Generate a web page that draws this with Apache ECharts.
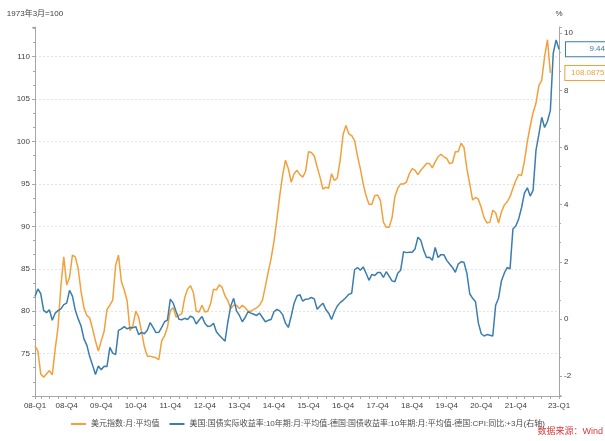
<!DOCTYPE html>
<html>
<head>
<meta charset="utf-8">
<script src="https://cdn.jsdelivr.net/npm/echarts@6/dist/echarts.min.js"></script>
<style>
html,body{margin:0;padding:0;background:#fff;}
#chart{width:605px;height:441px;}
</style>
</head>
<body>
<div id="chart"></div>
<script>
// Monthly categories: Jan 2008 .. Mar 2023
const startYear = 2008;
const monthCount = 183;
const categories = [];
for (let i = 0; i < monthCount; i++) {
  const y = startYear + Math.floor(i / 12);
  const m = (i % 12) + 1;
  categories.push(y + '-' + (m < 10 ? '0' + m : m));
}

const seriesNames = [
  '美元指数:月:平均值',
  '美国:国债实际收益率:10年期:月:平均值-德国:国债收益率:10年期:月:平均值-德国:CPI:同比:+3月(右轴)'
];

// US Dollar index, monthly average (left axis), Jan 2008 .. Dec 2022
const dollarIndex = [
  75.9, 75.3, 72.6, 72.2, 72.6, 73.0, 72.5, 75.5, 78.1, 83.0, 86.4, 83.1,
  84.0, 86.6, 86.4, 85.0, 82.3, 80.4, 79.5, 79.2, 77.9, 76.5, 75.3, 76.5,
  77.6, 80.2, 80.7, 81.3, 85.4, 86.6, 83.5, 82.5, 81.2, 77.7, 78.3, 80.0,
  79.3, 77.6, 75.8, 74.7, 74.7, 74.6, 74.5, 74.3, 76.5, 77.1, 78.1, 80.1,
  80.4, 79.3, 79.5, 79.7, 81.6, 82.6, 83.0, 82.2, 80.0, 79.9, 80.7, 79.9,
  80.0, 80.9, 82.6, 82.5, 83.1, 82.8, 81.8, 81.2, 80.3, 80.7, 80.7, 80.3,
  80.7, 80.4, 80.0, 80.0, 80.2, 80.4, 80.7, 81.3, 82.9, 84.6, 86.2, 88.2,
  90.8, 93.6, 96.0, 97.8, 96.8, 95.2, 96.2, 96.6, 96.1, 95.8, 96.5, 98.8,
  98.7, 98.3, 97.0, 95.8, 94.4, 94.6, 94.5, 96.2, 95.4, 95.7, 97.8, 100.8,
  101.9, 100.9, 100.7, 100.1, 98.3, 96.8, 95.0, 93.6, 92.6, 92.6, 93.6, 93.7,
  93.0, 90.5, 89.9, 89.9, 91.0, 93.5, 94.5, 95.0, 95.0, 95.2, 96.2, 96.8,
  96.6, 96.1, 96.6, 97.0, 97.4, 97.4, 96.9, 97.6, 98.2, 98.5, 98.2, 98.0,
  97.4, 97.5, 98.8, 98.8, 99.8, 99.3, 96.8, 95.0, 93.1, 93.4, 93.2, 92.2,
  91.0, 90.4, 90.5, 91.9, 91.6, 90.4, 91.7, 92.5, 92.9, 93.5, 94.5, 95.4,
  96.1, 96.0, 97.7, 100.0, 101.8, 103.4, 104.5, 106.6, 107.2, 110.0, 112.0, 108.0875
];

// Real yield spread (right axis, %), Jan 2008 .. Mar 2023
const yieldSpread = [
  0.78, 1.05, 0.88, 0.3, 0.22, 0.32, -0.05, 0.2, 0.29, 0.35, 0.5, 0.55,
  1.0, 0.8, 0.3, 0.0, -0.25, -0.7, -0.92, -1.32, -1.62, -1.95, -1.65, -1.78,
  -1.66, -1.67, -1.0, -1.2, -1.25, -0.4, -0.35, -0.27, -0.35, -0.3, -0.31, -0.27,
  -0.55, -0.47, -0.52, -0.4, -0.13, -0.3, -0.48, -0.47, -0.3, -0.1, -0.04, 0.69,
  0.55, 0.26, -0.01, -0.03, 0.02, -0.02, 0.1, 0.04, -0.18, -0.04, 0.08, -0.15,
  -0.27, -0.25, -0.15, -0.45, -0.57, -0.68, -0.78, -0.1, 0.45, 0.72, 0.28, 0.12,
  -0.1, 0.05, 0.25, 0.2, 0.16, 0.12, 0.2, 0.05, -0.1, -0.05, -0.02, 0.25,
  0.33, 0.28, 0.15, -0.15, -0.3, 0.1, 0.55, 0.8, 0.85, 0.62, 0.69, 0.7,
  0.75, 0.7, 0.34, 0.45, 0.55, 0.33, 0.2, -0.02, 0.25, 0.45, 0.57, 0.65,
  0.75, 0.86, 0.9, 1.72, 1.8, 1.7, 1.82, 1.6, 1.35, 1.56, 1.52, 1.62,
  1.62, 1.45, 1.65, 1.5, 1.33, 1.3, 1.6, 1.7, 2.35, 2.32, 2.33, 2.33,
  2.45, 2.86, 2.75, 2.4, 2.15, 2.16, 2.05, 2.5, 2.15, 2.25, 2.25, 2.05,
  1.92, 1.8, 1.63, 1.92, 2.0, 1.98, 1.6, 0.88, 0.72, 0.6, -0.15, -0.52,
  -0.6, -0.55, -0.57, -0.6, 0.48, 0.72, 1.33, 1.6, 1.8, 1.75, 3.15, 3.25,
  3.5, 3.9, 4.4, 4.59, 4.3, 4.5, 5.9, 6.45, 7.06, 6.7, 6.92, 7.3,
  9.3, 9.77, 9.44
];

const leftAxisName = '1973年3月=100';
const rightAxisName = '%';
const sourceText = '数据来源：Wind';

const ORANGE = '#F2A03C';
const BLUE = '#3A7DAF';
const FONT = "'Liberation Sans', 'Noto Sans CJK SC', sans-serif";

const lastIdx = categories.length - 1;
function isLabelIdx(i) {
  return i === 0 || i === lastIdx || (i % 12 === 11 && i < lastIdx - 6);
}
function quarterLabel(v) {
  const y = v.slice(2, 4);
  const m = parseInt(v.slice(5, 7), 10);
  return y + '-Q' + Math.ceil(m / 3);
}

const chart = echarts.init(document.getElementById('chart'), null, {renderer: 'canvas'});
chart.setOption({
  animation: false,
  textStyle: {fontFamily: FONT, fontSize: 8},
  grid: {left: 35, right: 46, top: 27, bottom: 45, containLabel: false},
  legend: {
    top: 415, left: 66,
    icon: 'rect', itemWidth: 15, itemHeight: 2, itemGap: 10,
    textStyle: {color: '#4d4d4d', fontSize: 8, fontFamily: FONT},
    data: seriesNames
  },
  graphic: [{
    type: 'text', right: 2, top: 427,
    style: {text: sourceText, fill: '#E0373B', font: '9px ' + FONT}
  }],
  xAxis: {
    type: 'category',
    data: categories,
    boundaryGap: false,
    axisLine: {onZero: false, lineStyle: {color: '#A6A6A6'}},
    axisTick: {show: true, length: 3, lineStyle: {color: '#A6A6A6'},
      interval: function (i) { return i === 0 || i % 3 === 2; }},
    axisLabel: {color: '#404040', fontSize: 8, margin: 6,
      interval: function (i) { return isLabelIdx(i); },
      formatter: quarterLabel},
    splitLine: {show: false}
  },
  yAxis: [{
    type: 'value', position: 'left',
    min: 70, max: 113.5, interval: 5,
    name: leftAxisName, nameLocation: 'end', nameGap: 9,
    nameTextStyle: {color: '#404040', fontSize: 8, fontFamily: FONT},
    axisLine: {show: true, onZero: false, lineStyle: {color: '#A6A6A6'}},
    axisTick: {show: true, length: 3, lineStyle: {color: '#A6A6A6'}},
    minorTick: {show: true, splitNumber: 3, length: 2, lineStyle: {color: '#A6A6A6'}},
    axisLabel: {color: '#404040', fontSize: 8, margin: 5, showMinLabel: false, showMaxLabel: false},
    splitLine: {show: true, showMinLine: false, showMaxLine: false, lineStyle: {color: '#E3E3E3', type: [2, 2]}}
  }, {
    type: 'value', position: 'right',
    min: -2.7, max: 10.22, splitNumber: 6,
    name: rightAxisName, nameLocation: 'end', nameGap: 9,
    nameTextStyle: {color: '#404040', fontSize: 8, fontFamily: FONT},
    axisLine: {show: true, onZero: false, lineStyle: {color: '#A6A6A6'}},
    axisTick: {show: true, length: 3, lineStyle: {color: '#A6A6A6'}},
    minorTick: {show: true, splitNumber: 3, length: 2, lineStyle: {color: '#A6A6A6'}},
    axisLabel: {color: '#404040', fontSize: 8, margin: 5, showMinLabel: false, showMaxLabel: false},
    splitLine: {show: false}
  }],
  series: [{
    name: seriesNames[0], type: 'line', yAxisIndex: 0,
    data: dollarIndex, showSymbol: false, symbol: 'none',
    lineStyle: {color: ORANGE, width: 1.5}, itemStyle: {color: ORANGE},
    endLabel: {
      show: true, distance: 15,
      formatter: function (p) { return '{a|' + p.value + '}'; },
      backgroundColor: '#fff', borderColor: ORANGE, borderWidth: 1,
      padding: [2, 3, 2, 3],
      rich: {a: {width: 36, align: 'right', color: ORANGE, fontSize: 8, fontFamily: FONT, lineHeight: 10}}
    }
  }, {
    name: seriesNames[1], type: 'line', yAxisIndex: 1,
    data: yieldSpread, showSymbol: false, symbol: 'none',
    lineStyle: {color: BLUE, width: 1.5}, itemStyle: {color: BLUE},
    endLabel: {
      show: true, distance: 7,
      formatter: function (p) { return '{a|' + p.value + '}'; },
      backgroundColor: '#fff', borderColor: BLUE, borderWidth: 1,
      padding: [2, 3, 2, 3],
      rich: {a: {width: 36, align: 'right', color: BLUE, fontSize: 8, fontFamily: FONT, lineHeight: 10}}
    }
  }]
});
</script>
</body>
</html>
